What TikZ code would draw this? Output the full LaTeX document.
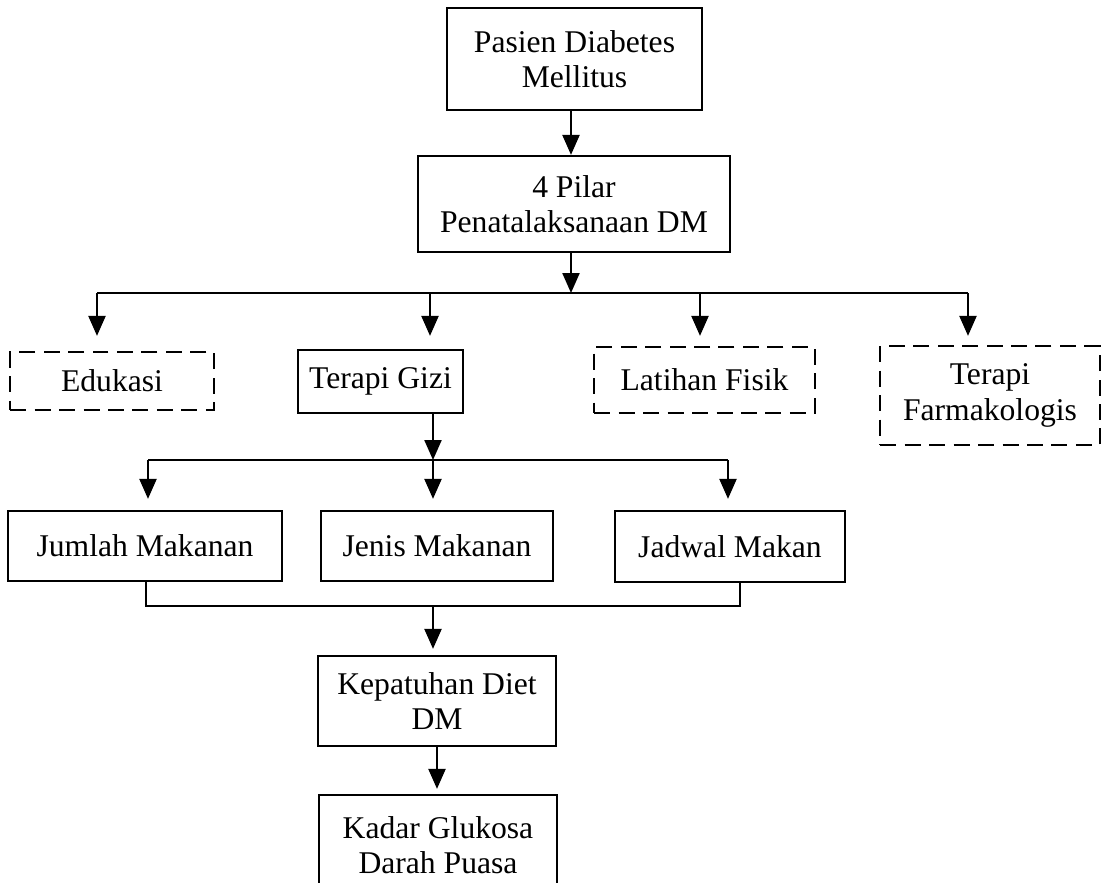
\documentclass[tikz,border=0pt]{standalone}
\usepackage{fontspec}
\setmainfont{Liberation Serif}
\usetikzlibrary{arrows.meta}

\tikzset{
  box/.style={draw, line width=1.3pt, inner sep=0pt, align=center,
    font=\fontsize{18}{20}\selectfont},
  dashbox/.style={box, dash pattern=on 0.32cm off 0.17cm},
  arr/.style={line width=1.3pt, -{Triangle[length=0.4cm,width=0.34cm]}},
  link/.style={line width=1.3pt}
}

\begin{document}
\begin{tikzpicture}[x=0.02cm,y=-0.02cm]
  \useasboundingbox (0,0) rectangle (1103,883);

  % top of the chart
  \node[box, minimum width=5.1cm, minimum height=2.04cm] (pasien) at (574.5,59) {Pasien Diabetes\\Mellitus};
  \node[box, minimum width=6.24cm, minimum height=1.92cm] (pilar) at (574,204) {4 Pilar\\Penatalaksanaan DM};

  % the four pillars
  \node[dashbox, minimum width=4.08cm, minimum height=1.16cm] (edukasi) at (112,381) {Edukasi};
  \node[box, minimum width=3.3cm, minimum height=1.26cm] (gizi) at (380.5,381.5) {Terapi Gizi};
  \node[dashbox, minimum width=4.42cm, minimum height=1.32cm] (latihan) at (704.5,380) {Latihan Fisik};
  \node[dashbox, minimum width=4.4cm, minimum height=1.98cm] (farmako) at (990,395.5) {Terapi\\Farmakologis};

  % diet components
  \node[box, minimum width=5.48cm, minimum height=1.4cm] (jumlah) at (145,546) {Jumlah Makanan};
  \node[box, minimum width=4.64cm, minimum height=1.4cm] (jenis) at (437,546) {Jenis Makanan};
  \node[box, minimum width=4.6cm, minimum height=1.42cm] (jadwal) at (730,546.5) {Jadwal Makan};

  \node[box, minimum width=4.76cm, minimum height=1.8cm] (patuh) at (437,701) {Kepatuhan Diet\\DM};
  \node[box, minimum width=4.76cm, minimum height=2cm] (kadar) at (438,845) {Kadar Glukosa\\Darah Puasa};

  % first bus
  \coordinate (busA) at (571,293);
  \coordinate (a1) at (97,293);
  \coordinate (a2) at (430,293);
  \coordinate (a3) at (700,293);
  \coordinate (a4) at (968,293);
  \draw[arr] (pasien.south -| busA) -- (pilar.north -| busA);
  \draw[arr] (pilar.south -| busA) -- (busA);
  \draw[link] (a1) -- (a4);
  \draw[arr, shorten >=0.3cm] (a1) -- (a1 |- edukasi.north);
  \draw[arr, shorten >=0.26cm] (a2) -- (a2 |- gizi.north);
  \draw[arr, shorten >=0.2cm] (a3) -- (a3 |- latihan.north);
  \draw[arr, shorten >=0.18cm] (a4) -- (a4 |- farmako.north);

  % second bus
  \coordinate (busB) at (433,460);
  \coordinate (b1) at (148,460);
  \coordinate (b3) at (728,460);
  \draw[arr] (gizi.south -| busB) -- (busB);
  \draw[link] (b1) -- (b3);
  \draw[arr, shorten >=0.22cm] (b1) -- (b1 |- jumlah.north);
  \draw[arr, shorten >=0.22cm] (busB) -- (busB |- jenis.north);
  \draw[arr, shorten >=0.22cm] (b3) -- (b3 |- jadwal.north);

  % third bus
  \coordinate (c1) at (146,606);
  \coordinate (c2) at (740,606);
  \coordinate (busC) at (433,606);
  \draw[link] (c1 |- jumlah.south) -- (c1) -- (c2) -- (c2 |- jadwal.south);
  \draw[arr, shorten >=0.12cm] (busC) -- (busC |- patuh.north);

  \draw[arr, shorten >=0.1cm] (patuh.south) -- (patuh.south |- kadar.north);
\end{tikzpicture}
\end{document}
